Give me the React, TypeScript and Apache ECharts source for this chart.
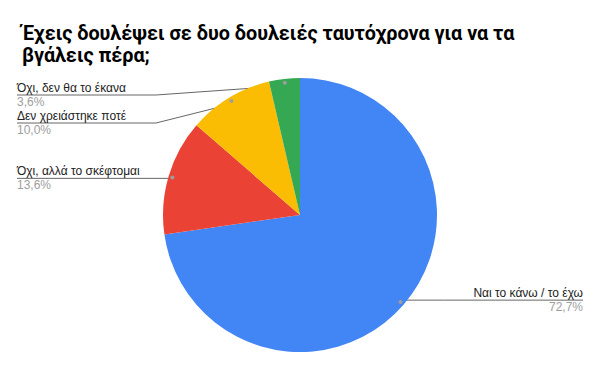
import React, { useEffect, useRef } from "react";
import * as echarts from "echarts";

const TITLE_LINES = ["Έχεις δουλέψει σε δυο δουλειές ταυτόχρονα για να τα", "βγάλεις πέρα;"];
const CATEGORIES = ["Ναι το κάνω / το έχω", "Όχι, αλλά το σκέφτομαι", "Δεν χρειάστηκε ποτέ", "Όχι, δεν θα το έκανα"];
const COUNTS = [80, 15, 11, 4];
const COLORS = ["#4285F4", "#EA4335", "#FBBC04", "#34A853"];

const CX = 300;
const CY = 215;
const R = 137;
const DOT_R = 130;
const TOP = 81;
const FONT = "'Liberation Sans', Arial, sans-serif";
const TITLE_FONT = "Roboto, 'Liberation Sans', sans-serif";

export default function App() {
  const ref = useRef<HTMLDivElement>(null);
  useEffect(() => {
    document.body.style.margin = "0";
    const chart = echarts.init(ref.current!, undefined, { renderer: "svg" });
    const data = CATEGORIES.map((name, i) => ({ name, value: COUNTS[i], itemStyle: { color: COLORS[i] } }));
    chart.setOption({
      animation: false,
      backgroundColor: "#ffffff",
      title: {
        text: TITLE_LINES.join("\n"),
        left: 17,
        top: 17,
        textStyle: { fontSize: 19.8, fontWeight: "bold", color: "#000", lineHeight: 22.5, fontFamily: TITLE_FONT },
      },
      series: [
        {
          type: "pie",
          left: 0,
          right: 0,
          top: TOP,
          bottom: 0,
          center: [CX, CY - TOP],
          radius: R,
          startAngle: 90,
          clockwise: true,
          data,
          silent: true,
          avoidLabelOverlap: true,
          label: {
            show: true,
            position: "outer",
            alignTo: "edge",
            edgeDistance: 17,
            fontFamily: FONT,
            formatter: (p: any) => `{n|${p.name}}\n{p|${p.percent.toFixed(1).replace(".", ",")}%}`,
            rich: {
              n: { fontSize: 12, color: "#222", lineHeight: 14, fontFamily: FONT },
              p: { fontSize: 12, color: "#9e9e9e", lineHeight: 14, fontFamily: FONT },
            },
          },
          labelLine: { show: true, length: -7, length2: 10, lineStyle: { color: "#666", width: 1 } },
          labelLayout: (p: any) => {
            const pts = p.labelLinePoints;
            const r = p.labelRect;
            if (!pts || !r) return {};
            const p0 = pts[0];
            const vx = p0[0] - CX;
            const vy = p0[1] - CY;
            const len = Math.hypot(vx, vy) || 1;
            const dot = [CX + (vx / len) * DOT_R, CY + (vy / len) * DOT_R];
            const ly = r.y + r.height / 2;
            if (dot[0] < CX) {
              const ex = Math.min(r.x + r.width + 30, dot[0]);
              return { labelLinePoints: [dot, [ex, ly], [r.x, ly]] };
            }
            const ex = Math.max(r.x - 30, dot[0]);
            return { labelLinePoints: [dot, [ex, ly], [r.x + r.width, ly]] };
          },
        },
        {
          type: "pie",
          left: 0,
          right: 0,
          top: TOP,
          bottom: 0,
          center: [CX, CY - TOP],
          radius: [DOT_R - 7, R],
          startAngle: 90,
          clockwise: true,
          silent: true,
          data: CATEGORIES.map((name, i) => ({ name, value: COUNTS[i] })),
          itemStyle: { color: "rgba(0,0,0,0)" },
          label: {
            show: true,
            position: "inner",
            formatter: " ",
            fontSize: 1,
            width: 4,
            height: 4,
            backgroundColor: "#9e9e9e",
            borderRadius: 2,
          },
          labelLine: { show: false },
        },
      ],
    });
    return () => chart.dispose();
  }, []);
  return <div ref={ref} style={{ width: 600, height: 371 }} />;
}
